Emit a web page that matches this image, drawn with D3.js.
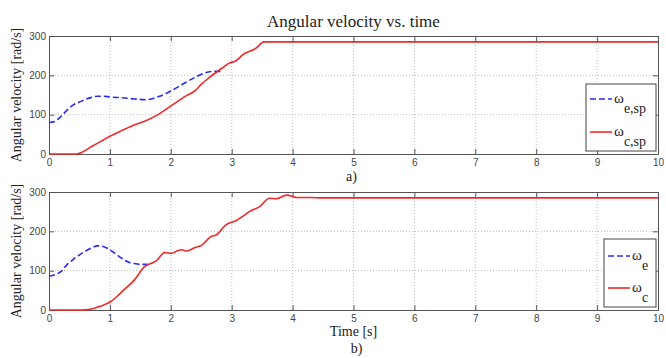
<!DOCTYPE html>
<html>
<head>
<meta charset="utf-8">
<script src="https://cdn.jsdelivr.net/npm/d3@7"></script>
<style>
  body { margin: 0; background: #fff; }
  svg { display: block; }
  .tick text { font-family: "Liberation Sans", Arial, sans-serif; font-size: 10px; fill: #444; }
  .serif { font-family: "Liberation Serif", "Times New Roman", serif; fill: #222; }
</style>
</head>
<body>
<svg id="chart" width="666" height="358"></svg>
<script>
// x ticks and y ticks shared by both panels
var xTicks = [0, 1, 2, 3, 4, 5, 6, 7, 8, 9, 10];
var yTicks = [0, 100, 200, 300];

// panel a) : set-point speeds
var eSpTime = [0, 0.1, 0.2, 0.3, 0.4, 0.5, 0.6, 0.7, 0.8, 0.9, 1.0, 1.2, 1.4, 1.6, 1.8, 2.0, 2.2, 2.4, 2.6, 2.7, 2.82];
var eSpVal  = [80, 83, 96, 112, 125, 132, 139, 144, 147, 147, 145, 143, 140, 138, 146, 160, 178, 195, 208, 210, 210];
var cSpTime = [0, 0.45, 0.55, 0.7, 0.85, 1.0, 1.2, 1.4, 1.57, 1.79, 2.01, 2.23, 2.4, 2.5, 2.62, 2.84, 2.96, 3.07, 3.18, 3.4, 3.53, 10];
var cSpVal  = [0, 0, 5, 19, 32, 45, 60, 74, 83, 100, 123, 146, 161, 177, 193, 218, 231, 237, 252, 269, 285, 285];

// panel b) : measured speeds
var eTime = [0, 0.1, 0.2, 0.3, 0.4, 0.5, 0.6, 0.7, 0.8, 0.9, 1.0, 1.1, 1.2, 1.3, 1.4, 1.5, 1.62];
var eVal  = [86, 90, 98, 116, 129, 140, 150, 158, 163, 161, 153, 142, 131, 122, 118, 116, 116];
var cTime = [0, 0.55, 0.65, 0.73, 0.85, 1.01, 1.12, 1.23, 1.4, 1.57, 1.68, 1.76, 1.9, 2.01, 2.1, 2.18, 2.26, 2.4, 2.51, 2.65, 2.76, 2.9, 3.07, 3.18, 3.29, 3.46, 3.62, 3.73, 3.9, 4.07, 4.29, 4.5, 10];
var cVal  = [0, 0, 1, 4, 10, 21, 35, 51, 76, 110, 119, 125, 146, 144, 150, 153, 150, 159, 165, 186, 192, 216, 227, 238, 250, 263, 284, 283, 292, 286, 286, 285, 285];

var svg = d3.select("#chart");
var left = 49, right = 658;
var mid = (left + right) / 2;

svg.append("text").attr("class", "serif")
	.attr("x", mid).attr("y", 27)
	.attr("text-anchor", "middle").style("font-size", "17px")
	.text("Angular velocity vs. time");

function zip(t, v){ return t.map(function(d, i){ return [d, v[i]]; }); }

function panel(top, bottom, series, legend){
	var x = d3.scaleLinear().domain([0, 10]).range([left, right]);
	var y = d3.scaleLinear().domain([0, 300]).range([bottom, top]);
	var g = svg.append("g");
	// grid
	g.selectAll(".gx").data(xTicks.slice(1, -1)).enter().append("line")
		.attr("x1", function(d){ return x(d); }).attr("x2", function(d){ return x(d); })
		.attr("y1", top).attr("y2", bottom)
		.attr("stroke", "#aaa").attr("stroke-width", 0.8).attr("stroke-dasharray", "1,2");
	g.selectAll(".gy").data(yTicks.slice(1, -1)).enter().append("line")
		.attr("x1", left).attr("x2", right)
		.attr("y1", function(d){ return y(d); }).attr("y2", function(d){ return y(d); })
		.attr("stroke", "#aaa").attr("stroke-width", 0.8).attr("stroke-dasharray", "1,2");
	// axes
	g.append("g").attr("transform", "translate(0," + bottom + ")")
		.call(d3.axisBottom(x).tickValues(xTicks).tickSize(-5).tickPadding(5));
	g.append("g").attr("transform", "translate(" + left + ",0)")
		.call(d3.axisLeft(y).tickValues(yTicks).tickSize(-5).tickPadding(3));
	g.append("g").attr("transform", "translate(0," + top + ")")
		.call(d3.axisTop(x).tickValues(xTicks).tickSize(-5).tickFormat(""));
	g.append("g").attr("transform", "translate(" + right + ",0)")
		.call(d3.axisRight(y).tickValues(yTicks).tickSize(-5).tickFormat(""));
	g.selectAll(".domain").attr("stroke", "#555");
	g.selectAll(".tick line").attr("stroke", "#555");
	// lines
	var line = d3.line().x(function(d){ return x(d[0]); }).y(function(d){ return y(d[1]); })
		.curve(d3.curveMonotoneX);
	series.forEach(function(s){
		g.append("path").datum(s.data)
			.attr("fill", "none").attr("stroke", s.color).attr("stroke-width", 1.6)
			.attr("stroke-dasharray", s.dash || null)
			.attr("d", line);
	});
	// y label
	svg.append("text").attr("class", "serif")
		.attr("transform", "translate(21," + ((top + bottom) / 2) + ") rotate(-90)")
		.attr("text-anchor", "middle").style("font-size", "14px")
		.text("Angular velocity [rad/s]");
	// legend
	var lg = svg.append("g");
	lg.append("rect").attr("x", legend.x).attr("y", legend.y)
		.attr("width", legend.w).attr("height", legend.h)
		.attr("fill", "#fff").attr("stroke", "#444").attr("stroke-width", 1);
	series.forEach(function(s, i){
		var yy = legend.y + legend.rows[i];
		lg.append("line").attr("x1", legend.x + legend.lx).attr("x2", legend.x + legend.lx + 22)
			.attr("y1", yy).attr("y2", yy)
			.attr("stroke", s.color).attr("stroke-width", 1.6)
			.attr("stroke-dasharray", s.dash || null);
		var t = lg.append("text").attr("class", "serif")
			.attr("x", legend.x + legend.lx + 24).attr("y", yy + 4)
			.style("font-size", "15px");
		t.append("tspan").text("\u03C9");
		t.append("tspan").attr("dy", 10).style("font-size", "14px").text(s.sub);
	});
}

panel(36, 154, [
	{data: zip(eSpTime, eSpVal), color: "#2b2bf0", dash: "6,3", sub: "e,sp"},
	{data: zip(cSpTime, cSpVal), color: "#f02828", sub: "c,sp"}
], {x: 586, y: 84, w: 70, h: 67, lx: 4, rows: [15, 48]});

panel(192, 310, [
	{data: zip(eTime, eVal), color: "#2b2bf0", dash: "6,3", sub: "e"},
	{data: zip(cTime, cVal), color: "#f02828", sub: "c"}
], {x: 604, y: 239, w: 52, h: 68, lx: 4, rows: [17, 49]});

svg.append("text").attr("class", "serif").attr("x", mid - 2).attr("y", 181)
	.attr("text-anchor", "middle").style("font-size", "14px").text("a)");
svg.append("text").attr("class", "serif").attr("x", mid).attr("y", 336)
	.attr("text-anchor", "middle").style("font-size", "14px").text("Time [s]");
svg.append("text").attr("class", "serif").attr("x", mid + 3).attr("y", 353)
	.attr("text-anchor", "middle").style("font-size", "14px").text("b)");
</script>
</body>
</html>
